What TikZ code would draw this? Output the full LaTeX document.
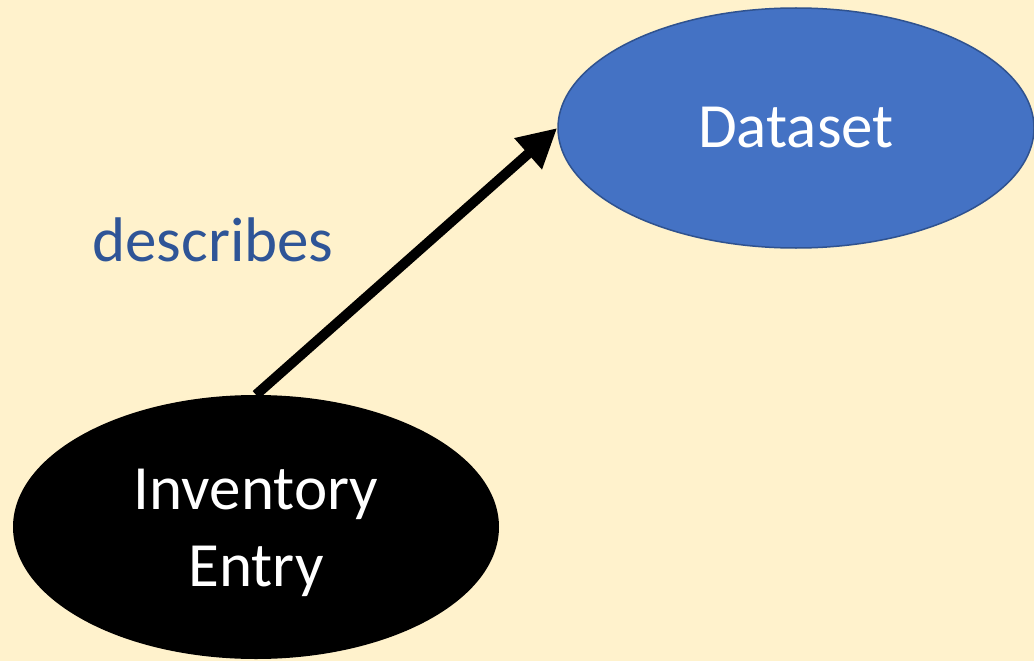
\documentclass[tikz,border=0pt]{standalone}
\usepackage{fontspec}
\setmainfont{Carlito}
\usetikzlibrary{shapes.geometric,arrows.meta}
\definecolor{cream}{HTML}{FFF2CC}
\definecolor{dsblue}{HTML}{4472C4}
\definecolor{dsedge}{HTML}{2F528F}
\definecolor{lblblue}{HTML}{2F5597}
\tikzset{
	big/.style={font=\fontsize{63}{77}\selectfont},
	blob/.style={ellipse,inner sep=0pt,text=white,align=center,big}
}
\begin{document}
\begin{tikzpicture}[x=1pt,y=-1pt,>={Triangle[length=39pt,width=39pt]}]
		\fill[cream] (0,0) rectangle (1034,661);
		\useasboundingbox (0,0) rectangle (1034,661);
		\node[blob,fill=dsblue,draw=dsedge,line width=1.5pt,minimum width=476pt,minimum height=240pt] (data) at (796,128) {Dataset};
		\node[blob,fill=black,minimum width=486pt,minimum height=264pt,
			label={[big,text=white,align=center,yshift=-6pt]center:Inventory\\Entry}] (inv) at (256,527) {};
		\node[big,text=lblblue] (lbl) at (213,240) {describes};
		\draw[->,line width=10pt] (inv.north) -- (data.west);
		\end{tikzpicture}
\end{document}
